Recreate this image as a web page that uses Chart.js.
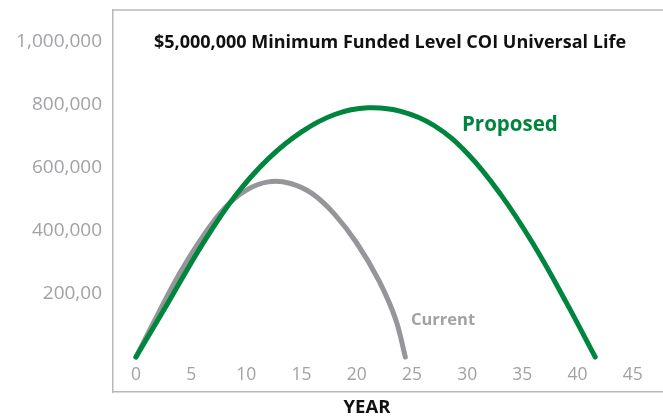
<!DOCTYPE html>
<html>
<head>
<meta charset="utf-8">
<script src="https://cdn.jsdelivr.net/npm/chart.js@4/dist/chart.umd.min.js"></script>
<style>
html,body{margin:0;padding:0;background:#fff;}
#c{display:block;}
</style>
</head>
<body>
<canvas id="c" width="663" height="419"></canvas>
<script>
// ---- data ----
const chartTitle = "$5,000,000 Minimum Funded Level COI Universal Life";
const xAxisTitle = "YEAR";
const xTickValues = [0, 5, 10, 15, 20, 25, 30, 35, 40, 45];
const yTickValues = [200000, 400000, 600000, 800000, 1000000];
const yTickLabels = ["200,00", "400,000", "600,000", "800,000", "1,000,000"];

const currentName = "Current";
const currentYears  = [0, 2, 4, 6, 8, 10, 12, 14, 16, 18, 20, 22, 23.5, 24.4];
const currentValues = [0, 137000, 268000, 380000, 472000, 530000, 556000, 551000, 518000, 453000, 362000, 243000, 122000, 0];

const proposedName = "Proposed";
const proposedYears  = [0, 3, 6, 9, 12, 15, 18, 21, 24, 27, 30, 33, 36, 39, 41.6];
const proposedValues = [0, 178000, 357000, 512000, 630000, 715000, 770000, 791000, 780000, 735000, 647000, 518000, 358000, 172000, 0];

// ---- styling ----
const GREEN = "#00853f";
const GRAY_LINE = "#95969a";
const GRAY_TEXT = "#a2a2a6";
const FRAME = "#b8b8b8";
const FONT = "'Open Sans', Lato, sans-serif";

const toXY = (xs, ys) => xs.map((x, i) => ({x: x, y: ys[i]}));

const framePlugin = {
  id: 'frame',
  afterDraw(chart) {
    const {ctx, chartArea: a} = chart;
    ctx.save();
    ctx.strokeStyle = FRAME;
    ctx.lineWidth = 1.5;
    ctx.beginPath();
    ctx.moveTo(a.left, a.top);
    ctx.lineTo(a.right, a.top);
    ctx.stroke();
    // texts
    ctx.textBaseline = 'middle';
    ctx.fillStyle = '#111';
    ctx.font = "bold 18px " + FONT;
    ctx.textAlign = 'center';
    ctx.fillText(chartTitle, 390, 43);
    ctx.font = "bold 18.5px " + FONT;
    ctx.fillText(xAxisTitle, 367, 408);
    ctx.textAlign = 'left';
    ctx.fillStyle = GREEN;
    ctx.font = "bold 20.5px " + FONT;
    ctx.fillText(proposedName, 462, 125);
    ctx.fillStyle = GRAY_TEXT;
    ctx.font = "bold 16.5px " + FONT;
    ctx.fillText(currentName, 411, 320);
    ctx.restore();
  }
};

new Chart(document.getElementById('c'), {
  type: 'line',
  data: {
    datasets: [
      {
        label: proposedName,
        data: toXY(proposedYears, proposedValues),
        borderColor: GREEN,
        borderWidth: 5,
        pointRadius: 0,
        borderCapStyle: 'round',
        tension: 0.4,
        fill: false
      },
      {
        label: currentName,
        data: toXY(currentYears, currentValues),
        borderColor: GRAY_LINE,
        borderWidth: 5,
        pointRadius: 0,
        borderCapStyle: 'round',
        tension: 0.4,
        fill: false
      }
    ]
  },
  options: {
    responsive: false,
    animation: false,
    devicePixelRatio: 1,
    layout: {padding: {top: 10, left: 0, right: 0, bottom: 0}},
    plugins: {legend: {display: false}, tooltip: {enabled: false}, title: {display: false}},
    scales: {
      x: {
        type: 'linear',
        min: -2.08,
        max: 47.74,
        afterFit: s => { s.height = 27; s.paddingLeft = 0; s.paddingRight = 0; },
        afterBuildTicks: s => { s.ticks = xTickValues.map(v => ({value: v})); },
        grid: {display: false, drawTicks: false},
        border: {display: true, color: FRAME, width: 1.5},
        ticks: {
          mirror: true,
          padding: 6,
          color: GRAY_TEXT,
          font: {family: FONT, size: 17.5},
          maxRotation: 0,
          autoSkip: false,
          callback: v => String(v)
        }
      },
      y: {
        type: 'linear',
        min: -111000,
        max: 1101700,
        afterFit: s => { s.width = 113; s.paddingTop = 0; s.paddingBottom = 0; },
        afterBuildTicks: s => { s.ticks = yTickValues.map(v => ({value: v})); },
        grid: {display: false, drawTicks: false},
        border: {display: true, color: FRAME, width: 1.5},
        ticks: {
          padding: 11,
          color: GRAY_TEXT,
          font: {family: FONT, size: 19},
          autoSkip: false,
          callback: v => yTickLabels[yTickValues.indexOf(v)]
        }
      }
    }
  },
  plugins: [framePlugin]
});
</script>
</body>
</html>
